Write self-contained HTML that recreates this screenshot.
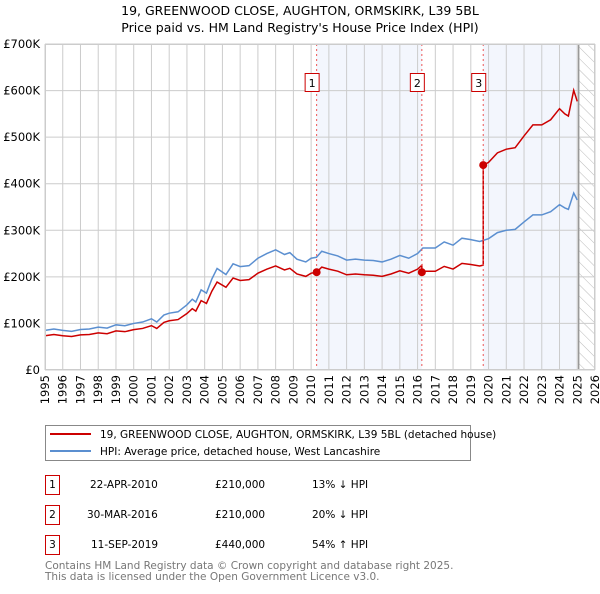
<!DOCTYPE html>
<html><head><meta charset="utf-8">
<style>
body{margin:0;background:#fff;font-family:"DejaVu Sans","Liberation Sans",sans-serif;}
svg text{font-family:"DejaVu Sans","Liberation Sans",sans-serif;}
</style></head>
<body>
<svg id="chart" width="600" height="590" xmlns="http://www.w3.org/2000/svg">
<text x="300" y="15" text-anchor="middle" font-size="12.5" fill="#000">19, GREENWOOD CLOSE, AUGHTON, ORMSKIRK, L39 5BL</text>
<text x="300" y="32" text-anchor="middle" font-size="12.5" fill="#000">Price paid vs. HM Land Registry's House Price Index (HPI)</text>
<defs><pattern id="hatch" patternUnits="userSpaceOnUse" width="8" height="8" patternTransform="rotate(-45)"><line x1="0" y1="0" x2="0" y2="8" stroke="#bbb" stroke-width="1"/></pattern></defs>
<g id="plot"></g>
<rect x="45.5" y="425.5" width="425" height="35" fill="#fff" stroke="#888"/>
<line x1="50" y1="434" x2="91" y2="434" stroke="#cc0000" stroke-width="2"/>
<text x="100" y="438" font-size="10.5">19, GREENWOOD CLOSE, AUGHTON, ORMSKIRK, L39 5BL (detached house)</text>
<line x1="50" y1="451" x2="91" y2="451" stroke="#5b8fd0" stroke-width="2"/>
<text x="100" y="455" font-size="10.5">HPI: Average price, detached house, West Lancashire</text>
<g font-size="10.5">
<rect x="45.5" y="475.5" width="14" height="19" fill="#fff" stroke="#cc0000"/><text x="52.5" y="488" text-anchor="middle">1</text>
<text x="90" y="488">22-APR-2010</text><text x="215" y="488">£210,000</text><text x="312" y="488">13% ↓ HPI</text>
<rect x="45.5" y="505.5" width="14" height="19" fill="#fff" stroke="#cc0000"/><text x="52.5" y="518" text-anchor="middle">2</text>
<text x="87" y="518">30-MAR-2016</text><text x="215" y="518">£210,000</text><text x="312" y="518">20% ↓ HPI</text>
<rect x="45.5" y="535.5" width="14" height="19" fill="#fff" stroke="#cc0000"/><text x="52.5" y="548" text-anchor="middle">3</text>
<text x="91" y="548">11-SEP-2019</text><text x="215" y="548">£440,000</text><text x="312" y="548">54% ↑ HPI</text>
</g>
<text x="45" y="569" font-size="10.5" fill="#777">Contains HM Land Registry data © Crown copyright and database right 2025.</text>
<text x="45" y="580" font-size="10.5" fill="#777">This data is licensed under the Open Government Licence v3.0.</text>
</svg>
<script>
const hpiDates=[1995,1995.5,1996,1996.5,1997,1997.5,1998,1998.5,1999,1999.5,2000,2000.5,2001,2001.3,2001.7,2002,2002.5,2003,2003.3,2003.5,2003.8,2004.1,2004.4,2004.7,2005.2,2005.6,2006,2006.5,2007,2007.5,2008,2008.5,2008.8,2009.2,2009.7,2010,2010.3,2010.6,2011,2011.5,2012,2012.5,2013,2013.5,2014,2014.5,2015,2015.5,2016,2016.3,2017,2017.5,2018,2018.5,2019,2019.5,2020,2020.5,2021,2021.5,2022,2022.5,2023,2023.5,2024,2024.3,2024.5,2024.8,2025];
const hpiValues=[85,88,85,83,87,88,92,90,97,95,100,103,110,103,118,122,125,140,152,146,172,165,195,218,205,228,222,224,240,250,258,248,252,238,232,240,242,255,250,245,236,238,236,235,232,238,246,240,250,262,262,275,268,283,280,276,282,295,300,302,318,333,333,340,355,348,345,380,365];
const saleDates=[2010.31,2016.24,2019.70];
const salePrices=[210,210,440];
const saleLabels=["1","2","3"];
const yTicks=[0,100,200,300,400,500,600,700];
const yTickLabels=["£0","£100K","£200K","£300K","£400K","£500K","£600K","£700K"];
const xYears=[];for(let y=1995;y<=2026;y++)xYears.push(y);

const X0=45,X1=595,Y0=370,Y1=44;
const xs=d=>X0+(d-1995)/(2026-1995)*(X1-X0);
const ys=v=>Y0-v/700*(Y0-Y1);
const NS="http://www.w3.org/2000/svg";
const g=document.getElementById('plot');
function mk(t,a){const e=document.createElementNS(NS,t);for(const k in a)e.setAttribute(k,a[k]);g.appendChild(e);return e;}
function hpiAt(d){for(let i=0;i<hpiDates.length-1;i++){if(d<=hpiDates[i+1]){const t=(d-hpiDates[i])/(hpiDates[i+1]-hpiDates[i]);return hpiValues[i]+t*(hpiValues[i+1]-hpiValues[i]);}}return hpiValues[hpiValues.length-1];}

let e;
e=mk('rect',{x:X0,y:Y1,width:X1-X0,height:Y0-Y1,fill:'#fff'});

const lastD=hpiDates[hpiDates.length-1];
e=mk('rect',{x:xs(saleDates[0]),y:Y1,width:xs(saleDates[1])-xs(saleDates[0]),height:Y0-Y1,fill:'#eef2fc',opacity:0.7});

e=mk('rect',{x:xs(saleDates[2]),y:Y1,width:xs(lastD)-xs(saleDates[2]),height:Y0-Y1,fill:'#eef2fc',opacity:0.7});

e=mk('rect',{x:xs(lastD+0.08),y:Y1,width:X1-xs(lastD+0.08),height:Y0-Y1,fill:'url(#hatch)'});

xYears.forEach(y=>{e=mk('line',{x1:xs(y),x2:xs(y),y1:Y1,y2:Y0,stroke:'#cccccc','stroke-width':1});

const t=mk('text',{x:0,y:0,'font-size':11.5,'text-anchor':'end',transform:`translate(${xs(y)+4},${Y0+5}) rotate(-90)`});t.textContent=y;
});
yTicks.forEach((v,i)=>{e=mk('line',{x1:X0,x2:X1,y1:ys(v),y2:ys(v),stroke:'#cccccc','stroke-width':1});

const t=mk('text',{x:X0-5,y:ys(v)+4,'font-size':11.5,'text-anchor':'end'});t.textContent=yTickLabels[i];
});
e=mk('line',{x1:xs(lastD+0.08),x2:xs(lastD+0.08),y1:Y1,y2:Y0,stroke:'#999','stroke-width':1.5});


// HPI line
e=mk('polyline',{points:hpiDates.map((d,i)=>xs(d)+','+ys(hpiValues[i])).join(' '),fill:'none',stroke:'#5b8fd0','stroke-width':1.5});

// property line: HPI indexed to each sale
const pts=[];
function factorFor(d){let f=salePrices[0]/hpiAt(saleDates[0]);for(let i=0;i<saleDates.length;i++)if(d>=saleDates[i])f=salePrices[i]/hpiAt(saleDates[i]);return f;}
const allD=hpiDates.concat(saleDates).sort((a,b)=>a-b);
allD.forEach(d=>{const si=saleDates.indexOf(d);
if(si>0){const f=salePrices[si-1]/hpiAt(saleDates[si-1]);pts.push([d,hpiAt(d)*f]);}
pts.push([d,hpiAt(d)*factorFor(d)]);});
e=mk('polyline',{points:pts.map(p=>xs(p[0])+','+ys(p[1])).join(' '),fill:'none',stroke:'#cc0000','stroke-width':1.5});


saleDates.forEach((d,i)=>{
e=mk('line',{x1:xs(d),x2:xs(d),y1:Y1,y2:Y0,stroke:'#ee5555','stroke-width':1,'stroke-dasharray':'2,3'});

e=mk('circle',{cx:xs(d),cy:ys(salePrices[i]),r:4,fill:'#cc0000'});

e=mk('rect',{x:xs(d)-11.5,y:73.5,width:14,height:18,fill:'#fff',stroke:'#cc0000'});

const t=mk('text',{x:xs(d)-4.5,y:87,'font-size':11,'text-anchor':'middle'});t.textContent=saleLabels[i];
});
e=mk('rect',{x:X0+0.5,y:Y1+0.5,width:X1-X0-1,height:Y0-Y1-1,fill:'none',stroke:'#cccccc'});

</script>
</body></html>
